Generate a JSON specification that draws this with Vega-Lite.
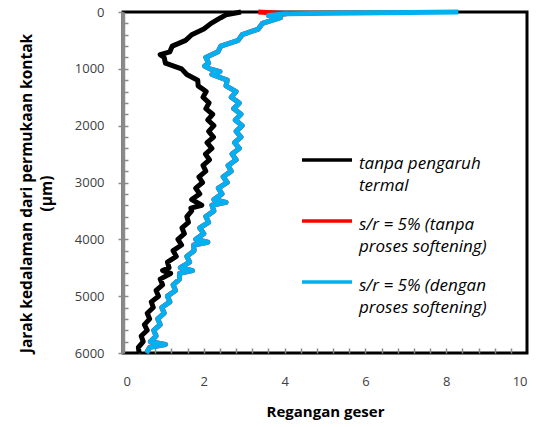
{
  "$schema": "https://vega.github.io/schema/vega-lite/v6.json",
  "width": 404,
  "height": 341,
  "autosize": "none",
  "padding": {"left": 123, "top": 12, "right": 10, "bottom": 74},
  "background": "white",
  "config": {"view": {"stroke": "black", "strokeWidth": 3}, "font": "Open Sans"},
  "datasets": {
    "t": [
      {"d":0,"v":2.92},{"d":50,"v":2.55},{"d":100,"v":2.42},{"d":200,"v":2.18},{"d":300,"v":2.0},{"d":400,"v":1.7},{"d":500,"v":1.55},{"d":600,"v":1.22},{"d":700,"v":1.16},{"d":750,"v":0.92},{"d":800,"v":1.02},{"d":900,"v":1.05},{"d":1000,"v":1.45},{"d":1100,"v":1.58},{"d":1200,"v":1.85},{"d":1300,"v":1.86},{"d":1400,"v":2.06},{"d":1500,"v":1.98},{"d":1600,"v":2.13},{"d":1700,"v":2.05},{"d":1800,"v":2.22},{"d":1900,"v":2.1},{"d":2000,"v":2.25},{"d":2100,"v":2.12},{"d":2200,"v":2.24},{"d":2300,"v":2.08},{"d":2400,"v":2.2},{"d":2500,"v":2.04},{"d":2600,"v":2.14},{"d":2700,"v":1.98},{"d":2800,"v":2.05},{"d":2900,"v":1.88},{"d":3000,"v":1.97},{"d":3100,"v":1.8},{"d":3200,"v":1.9},{"d":3300,"v":1.7},{"d":3400,"v":1.95},{"d":3450,"v":1.68},{"d":3500,"v":1.7},{"d":3600,"v":1.58},{"d":3700,"v":1.62},{"d":3800,"v":1.46},{"d":3900,"v":1.52},{"d":4000,"v":1.36},{"d":4100,"v":1.45},{"d":4200,"v":1.24},{"d":4300,"v":1.32},{"d":4400,"v":1.1},{"d":4500,"v":1.14},{"d":4550,"v":0.98},{"d":4600,"v":1.18},{"d":4700,"v":0.92},{"d":4800,"v":0.98},{"d":4900,"v":0.82},{"d":5000,"v":0.88},{"d":5100,"v":0.7},{"d":5200,"v":0.75},{"d":5300,"v":0.6},{"d":5400,"v":0.66},{"d":5500,"v":0.53},{"d":5600,"v":0.6},{"d":5700,"v":0.45},{"d":5800,"v":0.5},{"d":5900,"v":0.38},{"d":6000,"v":0.4}
    ],
    "r": [
      {"d":0,"v":3.35},{"d":30,"v":4.05},{"d":60,"v":3.6},{"d":100,"v":3.9},{"d":200,"v":3.45},{"d":300,"v":3.35},{"d":400,"v":2.95},{"d":500,"v":2.85},{"d":600,"v":2.42},{"d":700,"v":2.35},{"d":800,"v":2.05},{"d":900,"v":2.12},{"d":950,"v":2.02},{"d":1000,"v":2.15},{"d":1050,"v":2.4},{"d":1100,"v":2.2},{"d":1200,"v":2.58},{"d":1300,"v":2.55},{"d":1400,"v":2.8},{"d":1500,"v":2.68},{"d":1600,"v":2.88},{"d":1700,"v":2.74},{"d":1800,"v":2.92},{"d":1900,"v":2.78},{"d":2000,"v":2.95},{"d":2100,"v":2.8},{"d":2200,"v":2.92},{"d":2300,"v":2.76},{"d":2400,"v":2.88},{"d":2500,"v":2.7},{"d":2600,"v":2.8},{"d":2700,"v":2.6},{"d":2800,"v":2.68},{"d":2900,"v":2.48},{"d":3000,"v":2.58},{"d":3100,"v":2.36},{"d":3200,"v":2.45},{"d":3300,"v":2.25},{"d":3350,"v":2.55},{"d":3400,"v":2.2},{"d":3500,"v":2.25},{"d":3600,"v":2.05},{"d":3700,"v":2.12},{"d":3800,"v":1.9},{"d":3900,"v":2.0},{"d":4000,"v":1.8},{"d":4050,"v":2.1},{"d":4100,"v":1.75},{"d":4200,"v":1.76},{"d":4300,"v":1.58},{"d":4400,"v":1.65},{"d":4500,"v":1.42},{"d":4550,"v":1.72},{"d":4600,"v":1.4},{"d":4700,"v":1.4},{"d":4800,"v":1.24},{"d":4900,"v":1.3},{"d":5000,"v":1.1},{"d":5100,"v":1.16},{"d":5200,"v":0.96},{"d":5300,"v":1.02},{"d":5400,"v":0.86},{"d":5500,"v":0.92},{"d":5600,"v":0.76},{"d":5700,"v":0.82},{"d":5800,"v":0.68},{"d":5850,"v":1.05},{"d":5900,"v":0.66},{"d":6000,"v":0.58}
    ],
    "b": [
      {"d":0,"v":8.3},{"d":30,"v":4.05},{"d":60,"v":3.6},{"d":100,"v":3.9},{"d":200,"v":3.45},{"d":300,"v":3.35},{"d":400,"v":2.95},{"d":500,"v":2.85},{"d":600,"v":2.42},{"d":700,"v":2.35},{"d":800,"v":2.05},{"d":900,"v":2.12},{"d":950,"v":2.02},{"d":1000,"v":2.15},{"d":1050,"v":2.4},{"d":1100,"v":2.2},{"d":1200,"v":2.58},{"d":1300,"v":2.55},{"d":1400,"v":2.8},{"d":1500,"v":2.68},{"d":1600,"v":2.88},{"d":1700,"v":2.74},{"d":1800,"v":2.92},{"d":1900,"v":2.78},{"d":2000,"v":2.95},{"d":2100,"v":2.8},{"d":2200,"v":2.92},{"d":2300,"v":2.76},{"d":2400,"v":2.88},{"d":2500,"v":2.7},{"d":2600,"v":2.8},{"d":2700,"v":2.6},{"d":2800,"v":2.68},{"d":2900,"v":2.48},{"d":3000,"v":2.58},{"d":3100,"v":2.36},{"d":3200,"v":2.45},{"d":3300,"v":2.25},{"d":3350,"v":2.55},{"d":3400,"v":2.2},{"d":3500,"v":2.25},{"d":3600,"v":2.05},{"d":3700,"v":2.12},{"d":3800,"v":1.9},{"d":3900,"v":2.0},{"d":4000,"v":1.8},{"d":4050,"v":2.1},{"d":4100,"v":1.75},{"d":4200,"v":1.76},{"d":4300,"v":1.58},{"d":4400,"v":1.65},{"d":4500,"v":1.42},{"d":4550,"v":1.72},{"d":4600,"v":1.4},{"d":4700,"v":1.4},{"d":4800,"v":1.24},{"d":4900,"v":1.3},{"d":5000,"v":1.1},{"d":5100,"v":1.16},{"d":5200,"v":0.96},{"d":5300,"v":1.02},{"d":5400,"v":0.86},{"d":5500,"v":0.92},{"d":5600,"v":0.76},{"d":5700,"v":0.82},{"d":5800,"v":0.68},{"d":5850,"v":1.05},{"d":5900,"v":0.66},{"d":6000,"v":0.58}
    ]
  },
  "layer": [
    {
      "data": {"name": "t"},
      "mark": {"type": "line", "strokeWidth": 5, "strokeJoin": "round"},
      "encoding": {
        "x": {"field": "v", "type": "quantitative",
              "scale": {"domain": [0, 10], "nice": false, "zero": false},
              "axis": {"title": "Regangan geser", "values": [0, 2, 4, 6, 8, 10], "grid": false, "domain": false, "ticks": false,
                       "labelPadding": 22, "labelFontSize": 13, "labelColor": "#404040", "labelFont": "Open Sans",
                       "titleFontSize": 15, "titleFontWeight": "bold", "titleColor": "black", "titlePadding": 16, "titleFont": "Open Sans"}},
        "y": {"field": "d", "type": "quantitative",
              "scale": {"domain": [0, 6000], "reverse": true, "nice": false, "zero": false},
              "axis": {"title": ["Jarak kedalaman dari permukaan kontak", "(µm)"], "values": [0, 1000, 2000, 3000, 4000, 5000, 6000], "format": "d", "grid": false,
                       "domainColor": "#8a8a8a", "domainWidth": 3.5, "tickColor": "#8a8a8a", "tickSize": 5, "tickWidth": 1.5,
                       "labelPadding": 14, "labelFontSize": 13, "labelColor": "#404040", "labelFont": "Open Sans",
                       "titleFontSize": 15.5, "titleFontWeight": "bold", "titleColor": "black", "titlePadding": 20, "titleLineHeight": 20, "titleFont": "Open Sans", "titleY": 181}},
        "color": {"datum": "tanpa pengaruh|termal", "type": "nominal",
                  "scale": {"domain": ["tanpa pengaruh|termal", "s/r = 5% (tanpa|proses softening)", "s/r = 5% (dengan|proses softening)"], "range": ["#000000", "#ff0000", "#00b0f0"]},
                  "legend": {"orient": "none", "legendX": 177, "legendY": 121, "title": null, "padding": 0,
                             "symbolType": "stroke", "symbolSize": 2500, "symbolStrokeWidth": 3.5,
                             "labelFont": "Open Sans", "labelFontStyle": "italic", "labelFontSize": 17, "labelColor": "black",
                             "labelLimit": 300, "labelOffset": 5, "rowPadding": -4,
                             "labelExpr": "split(datum.label, '|')",
                             "encode": {"labels": {"update": {"lineHeight": {"value": 22}, "dy": {"value": 4}}}}}},
        "order": {"field": "d", "type": "quantitative"}
      }
    },
    {
      "data": {"name": "r"},
      "mark": {"type": "line", "strokeWidth": 5, "strokeJoin": "round"},
      "encoding": {
        "x": {"field": "v", "type": "quantitative", "scale": {"domain": [0, 10], "nice": false, "zero": false}, "axis": null},
        "y": {"field": "d", "type": "quantitative", "scale": {"domain": [0, 6000], "reverse": true, "nice": false, "zero": false}, "axis": null},
        "color": {"datum": "s/r = 5% (tanpa|proses softening)", "type": "nominal"},
        "order": {"field": "d", "type": "quantitative"}
      }
    },
    {
      "data": {"name": "b"},
      "mark": {"type": "line", "strokeWidth": 5, "strokeJoin": "round"},
      "encoding": {
        "x": {"field": "v", "type": "quantitative", "scale": {"domain": [0, 10], "nice": false, "zero": false}, "axis": null},
        "y": {"field": "d", "type": "quantitative", "scale": {"domain": [0, 6000], "reverse": true, "nice": false, "zero": false}, "axis": null},
        "color": {"datum": "s/r = 5% (dengan|proses softening)", "type": "nominal"},
        "order": {"field": "d", "type": "quantitative"}
      }
    },
    {
      "data": {"name": "t"},
      "mark": {"type": "line", "opacity": 0},
      "encoding": {
        "x": {"field": "v", "type": "quantitative",
              "scale": {"domain": [0, 10], "nice": false, "zero": false},
              "axis": {"orient": "bottom", "title": null, "labels": false, "domain": false, "grid": false, "offset": -5,
                       "values": [0.4, 0.8, 1.2, 1.6, 2, 2.4, 2.8, 3.2, 3.6, 4, 4.4, 4.8, 5.2, 5.6, 6, 6.4, 6.8, 7.2, 7.6, 8, 8.4, 8.8, 9.2, 9.6],
                       "tickSize": 5, "tickColor": "#8a8a8a", "tickWidth": 1.5}},
        "y": {"field": "d", "type": "quantitative",
              "scale": {"domain": [0, 6000], "reverse": true, "nice": false, "zero": false},
              "axis": {"orient": "left", "title": null, "labels": false, "domain": false, "grid": false, "offset": -5,
                       "values": [200, 400, 600, 800, 1000, 1200, 1400, 1600, 1800, 2000, 2200, 2400, 2600, 2800, 3000, 3200, 3400, 3600, 3800, 4000, 4200, 4400, 4600, 4800, 5000, 5200, 5400, 5600, 5800],
                       "tickSize": 5, "tickColor": "#8a8a8a", "tickWidth": 1.5}},
        "order": {"field": "d", "type": "quantitative"}
      }
    }
  ],
  "resolve": {"axis": {"x": "independent", "y": "independent"}}
}
